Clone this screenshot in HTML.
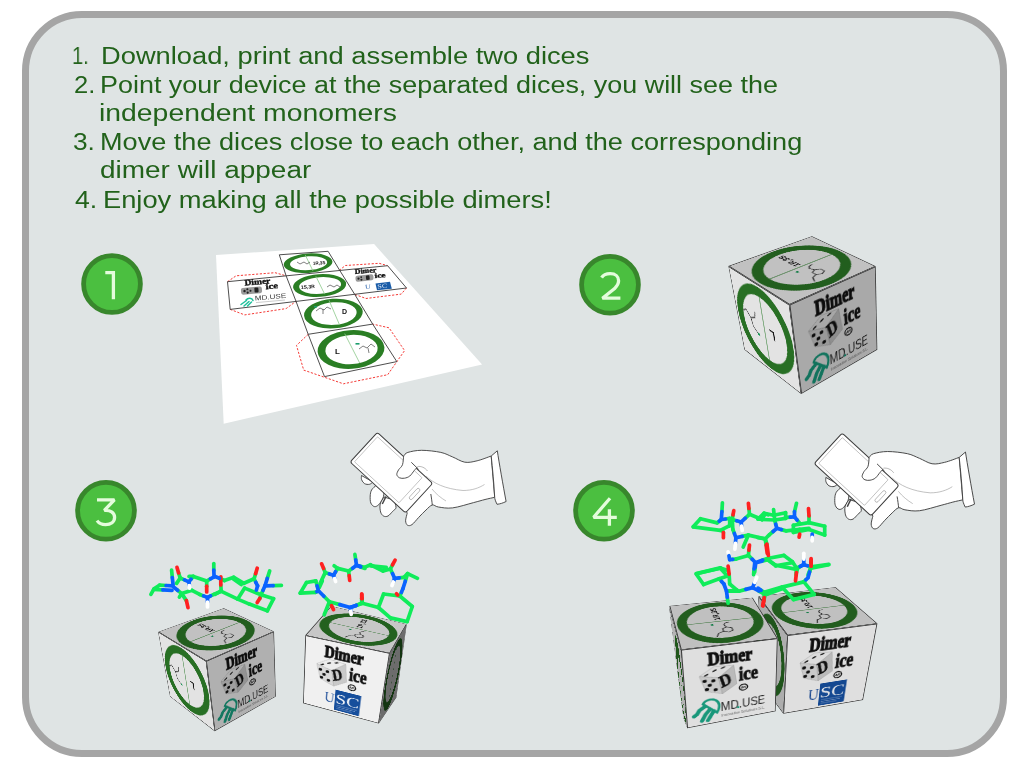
<!DOCTYPE html>
<html><head><meta charset="utf-8">
<style>
html,body{margin:0;padding:0;background:#fff;width:1024px;height:768px;overflow:hidden;}
body{position:relative;font-family:"Liberation Sans",sans-serif;}
#frame{position:absolute;left:22px;top:11px;width:971px;height:732px;border:7px solid #a5a5a5;border-radius:60px;background:#dfe4e4;}
.t{position:absolute;white-space:nowrap;color:#22621b;font-size:24.7px;line-height:1;transform-origin:0 0;will-change:transform;}
svg{position:absolute;left:0;top:0;overflow:visible}
.face{position:absolute;left:0;top:0;width:100px;height:100px;transform-origin:0 0;}
.face svg{position:static;display:block;overflow:hidden}
</style></head><body>
<div id="frame"></div>
<div class="t" id="n1" style="left:72.4px;top:44px;transform:scaleX(0.81)">1.</div>
<div class="t" id="l1" style="left:101.1px;top:44px;transform:scaleX(1.1054)">Download, print and assemble two dices</div>
<div class="t" id="n2" style="left:73.5px;top:73px;transform:scaleX(1.035)">2.</div>
<div class="t" id="l2" style="left:99.7px;top:73px;transform:scaleX(1.0904)">Point your device at the separated dices, you will see the</div>
<div class="t" id="l3" style="left:99.2px;top:101px;transform:scaleX(1.1487)">independent monomers</div>
<div class="t" id="n3" style="left:72.5px;top:130px;transform:scaleX(1.065)">3.</div>
<div class="t" id="l4" style="left:99.7px;top:130px;transform:scaleX(1.0981)">Move the dices close to each other, and the corresponding</div>
<div class="t" id="l5" style="left:99.6px;top:158px;transform:scaleX(1.1321)">dimer will appear</div>
<div class="t" id="n4" style="left:74.6px;top:188px;transform:scaleX(1.078)">4.</div>
<div class="t" id="l6" style="left:102.7px;top:188px;transform:scaleX(1.105)">Enjoy making all the possible dimers!</div>
<svg width="1024" height="768" viewBox="0 0 1024 768">
<g id="paper">
<polygon points="216,255 374.1,244.1 482.1,364.4 223.7,423.8" fill="#ffffff"/>
<!-- dashed red outlines -->
<g fill="none" stroke="#f53a36" stroke-width="1" stroke-dasharray="2.2 1.6">
<polyline points="227.5,281.7 236.1,275.8 275.1,272.7 286.1,275.8"/>
<polyline points="230.2,309.4 244.7,314.9 286.1,308.6 296.2,301.2"/>
<polyline points="339.2,270.4 345.4,265.5 379.2,263.3 387.6,265.7"/>
<polyline points="355,294.5 366,298.5 401.2,294.1 406.5,288"/>
<polyline points="308.2,334.3 296.5,345.4 303.7,370.1 343.4,383.8 387.7,374.7 404.6,350.6 389,327.8 372.7,324.1"/>
</g>
<!-- rings -->
<g fill="#2a7e24">
<ellipse cx="308.1" cy="263.2" rx="24.4" ry="9.7" transform="rotate(-4 308.1 263.2)"/>
<ellipse cx="319.6" cy="285.5" rx="26.6" ry="11.4" transform="rotate(-4 319.6 285.5)"/>
<ellipse cx="333.4" cy="313.6" rx="29.4" ry="14.8" transform="rotate(-4 333.4 313.6)"/>
<ellipse cx="351" cy="349.5" rx="33.5" ry="19.4" transform="rotate(-4 351 349.5)"/>
</g>
<g fill="#ffffff">
<ellipse cx="308.6" cy="263.2" rx="18.6" ry="6.9" transform="rotate(-4 308.6 263.2)"/>
<ellipse cx="320.1" cy="285.5" rx="21" ry="8.3" transform="rotate(-4 320.1 285.5)"/>
<ellipse cx="333.9" cy="313.6" rx="22.8" ry="11.3" transform="rotate(-4 333.9 313.6)"/>
<ellipse cx="351.5" cy="349.5" rx="26.2" ry="14.6" transform="rotate(-4 351.5 349.5)"/>
</g>
<g stroke="#8cc98a" stroke-width="0.8">
<line x1="305.2" y1="254.8" x2="313" y2="271"/>
<line x1="315.9" y1="276.3" x2="324.7" y2="294.2"/>
<line x1="329.1" y1="300.4" x2="339.2" y2="324.1"/>
<line x1="344.7" y1="333.6" x2="359.7" y2="363"/>
</g>
<!-- grid -->
<g fill="none" stroke="#3a3a3a" stroke-width="0.9">
<polyline points="279.3,254.8 286.1,275.8 296.1,301.5 308.2,334.3 324.5,376.6"/>
<polyline points="328.1,251.3 339.6,270.2 354.8,294.5 372.7,324.1 396.8,361.6"/>
<line x1="279.3" y1="254.8" x2="328.1" y2="251.3"/>
<line x1="227.5" y1="281.7" x2="387.6" y2="265.7"/>
<line x1="230.2" y1="309.4" x2="406.5" y2="288"/>
<line x1="308.2" y1="334.3" x2="372.7" y2="324.1"/>
<line x1="324.5" y1="376.6" x2="396.8" y2="361.6"/>
<line x1="227.5" y1="281.7" x2="230.2" y2="309.4"/>
<line x1="387.6" y1="265.7" x2="406.5" y2="288"/>
</g>
<!-- small labels -->
<g font-family="Liberation Sans" font-weight="bold" fill="#111">
<text x="313" y="265" font-size="4.5" transform="rotate(-4 313 265)">1R,3S</text>
<text x="301" y="289" font-size="5" transform="rotate(-4 301 289)">1S,3R</text>
<text x="342" y="314" font-size="7">D</text>
<text x="335" y="354" font-size="8">L</text>
</g>
<g fill="none" stroke="#2a2a2a" stroke-width="0.6">
<path d="M297,262 l3,2 l4,-2 l3,2 l3,-2"/>
<path d="M327,287 l3,-2 l4,2 l3,-2 l3,2"/>
<path d="M316,311 l4,-3 l4,2 l3,-3 l4,2 M323,309 l0,5"/>
<path d="M359,349 l4,-3 l4,2 l4,-4 l4,3 M368,348 l1,5"/>
</g>
<g fill="#1c9e6c"><rect x="314" y="306" width="3" height="1.5"/><rect x="355.5" y="343" width="4" height="1.6"/></g>
<!-- left panel logo -->
<g font-family="Liberation Serif" font-weight="bold" fill="#111" stroke="#111" stroke-width="0.35">
<text x="244.7" y="285.6" font-size="8.2" textLength="26" lengthAdjust="spacingAndGlyphs" transform="rotate(-5 244.7 285.6)">Dimer</text>
<text x="265.8" y="289.2" font-size="8" textLength="12.5" lengthAdjust="spacingAndGlyphs" transform="rotate(-5 265.8 289.2)">ice</text>
<text x="355" y="274" font-size="7" textLength="21.5" lengthAdjust="spacingAndGlyphs" transform="rotate(-5 355 274)">Dimer</text>
<text x="374.8" y="278" font-size="6.5" textLength="11" lengthAdjust="spacingAndGlyphs" transform="rotate(-5 374.8 278)">ice</text>
</g>
<g transform="rotate(-5 251 290.6)"><rect x="241" y="287.2" width="21" height="6.8" rx="2" fill="#9a9a9a"/>
<g fill="#222"><circle cx="244.5" cy="290.5" r="1.2"/><circle cx="247.5" cy="289" r="1"/><circle cx="247.5" cy="292.3" r="1.1"/><circle cx="250.5" cy="290.8" r="1"/><rect x="254.5" y="288" width="4" height="5" rx="1"/></g></g>
<g transform="rotate(-6 364.5 278)"><rect x="355.5" y="275" width="18" height="6" rx="2" fill="#9a9a9a"/>
<g fill="#222"><circle cx="358.5" cy="278" r="1.1"/><circle cx="361.3" cy="276.8" r="0.9"/><circle cx="361.3" cy="279.4" r="1"/><rect x="366" y="275.8" width="3.6" height="4.4" rx="0.9"/></g></g>
<text x="255" y="300.6" font-family="Liberation Sans" font-size="6.6" textLength="31.5" lengthAdjust="spacingAndGlyphs" fill="#3a3a3a" transform="rotate(-5 255 300.6)">MD.USE</text>
<line x1="256" y1="302.6" x2="285" y2="300" stroke="#aaa" stroke-width="0.6"/>
<g stroke="#20c09c" stroke-width="1.5" fill="none" stroke-linecap="round"><path d="M246,300 C248,297.5 252,297.5 253,300.5"/><path d="M246.5,300.5 L241,304.5 M249,301.5 L244,306 M251.5,302 L247.5,306"/></g>
<text x="365.2" y="288.9" font-family="Liberation Serif" font-size="6.2" fill="#1e5aa8" textLength="5.5" lengthAdjust="spacingAndGlyphs" transform="rotate(-5 365.2 288.9)">U</text>
<polygon points="375.5,283.4 390,281.8 391.8,288.8 377,290.3" fill="#1a5ca8"/>
<text x="377.5" y="288.5" font-family="Liberation Serif" font-size="6" fill="#dfe8f5" textLength="10" lengthAdjust="spacingAndGlyphs" transform="rotate(-5 377.5 288.5)">SC</text>
</g>


<g id="badges">
<circle cx="112" cy="284" r="28.4" fill="#4bbf40" stroke="#38872c" stroke-width="4.8"/>
<circle cx="610" cy="284.8" r="28.4" fill="#4bbf40" stroke="#38872c" stroke-width="4.8"/>
<circle cx="106" cy="510.8" r="28.4" fill="#4bbf40" stroke="#38872c" stroke-width="4.8"/>
<circle cx="604" cy="510.8" r="28.4" fill="#4bbf40" stroke="#38872c" stroke-width="4.8"/>
<g fill="none" stroke="#e4fcdc" stroke-width="3.3" stroke-linejoin="miter" stroke-miterlimit="2">
<path d="M105.3,272.7 H113.4 V299.2"/>
<path d="M601.6,277.6 C603.5,274.5 606.5,273.7 610.2,273.7 C615.5,273.7 618.6,276.8 618.6,280.8 C618.6,283.6 617.4,285.7 614.6,288.6 L602.4,298.2 H620.4"/>
<path d="M97,499.8 H114.4 L104.3,510.4 C110,509.8 114.6,512.5 114.6,517.3 C114.6,521.8 110.8,524.6 105.6,524.6 C101.8,524.6 98.9,523.2 97,520.6"/>
<path d="M610,498.2 L593.6,517.3 H616.8 M609.4,509.2 V525.8"/>
</g>
</g>
<g id="hand1"><path d="M361.5,475.5 C361.5,476.2 361.1,478.3 361.6,479.7 C362.1,481.1 363.2,482.8 364.5,483.6 C365.8,484.4 368.1,484.6 369.5,484.3 C370.9,484.0 372.4,482.4 373.0,482.0 Z" fill="#fff" stroke="#3c3c3c" stroke-width="0.9" stroke-linejoin="round"/>
<path d="M376.0,485.5 C375.3,486.2 372.6,488.2 371.6,490.0 C370.6,491.8 370.3,493.8 370.2,496.0 C370.1,498.2 370.1,501.2 370.8,503.0 C371.5,504.8 373.1,506.3 374.4,506.6 C375.7,506.9 377.4,506.0 378.8,504.6 C380.2,503.2 382.1,500.1 383.0,498.0 C383.9,495.9 383.8,493.0 384.0,492.0 Z" fill="#fff" stroke="#3c3c3c" stroke-width="0.9" stroke-linejoin="round"/>
<path d="M384.0,497.0 C383.4,498.2 380.8,501.5 380.2,504.0 C379.6,506.5 380.1,510.0 380.6,512.0 C381.2,514.0 382.3,515.3 383.5,516.0 C384.7,516.7 386.5,516.8 388.0,516.0 C389.5,515.2 391.2,512.9 392.5,511.5 C393.8,510.1 395.8,509.4 396.0,507.5 C396.2,505.6 394.3,501.2 394.0,500.0 Z" fill="#fff" stroke="#3c3c3c" stroke-width="0.9" stroke-linejoin="round"/>
<path d="M403.8,455.8 C404.5,455.2 404.9,453.3 407.9,452.4 C410.9,451.5 416.1,450.3 421.6,450.3 C427.1,450.3 435.7,451.3 440.8,452.4 C445.9,453.5 448.5,455.3 452.5,456.9 C456.5,458.5 460.7,461.5 464.8,462.2 C468.9,462.9 472.7,461.8 477.1,460.8 C481.5,459.8 488.9,456.8 491.2,456.0 L494.7,497.3  C493.1,497.7 488.5,498.6 485.0,499.5 C481.5,500.4 479.0,501.2 473.6,502.6 C468.2,504.0 458.4,507.2 452.5,507.9 C446.6,508.6 441.8,507.5 438.4,507.0 C435.0,506.5 434.4,504.5 432.3,505.0 C430.2,505.5 428.3,507.9 426.0,510.0 C423.7,512.1 420.9,515.1 418.6,517.5 C416.3,519.9 413.9,523.3 412.0,524.6 C410.1,525.9 408.6,525.8 407.5,525.2 C406.4,524.6 405.7,522.8 405.6,520.8 C405.6,518.8 406.9,514.5 407.2,513.2 L395,480 L400,462 Z" fill="#fff" stroke="#3c3c3c" stroke-width="0.9" stroke-linejoin="round"/>
<path d="M491.2,456 L497.3,450.8 C499,462 503,485 506.1,501.5 C503,503 500,504 497,504.3 C495.5,501 494.7,499 494.7,497.3 C494,484 492.5,468 491.2,456 Z" fill="#fff" stroke="#3c3c3c" stroke-width="0.9" stroke-linejoin="round"/>
<path d="M386,496.5 L382.3,504" stroke="#444" stroke-width="1.5" fill="none"/>
<g transform="translate(391.4,472.65) rotate(42.6)"><rect x="-37.6" y="-20.1" width="75.2" height="40.2" rx="2.6" fill="#fff" stroke="#3c3c3c" stroke-width="1"/><rect x="-34.5" y="-17" width="60.5" height="34" rx="0.6" fill="none" stroke="#9a9a9a" stroke-width="0.55"/><rect x="29.8" y="-7" width="3.4" height="14" rx="1.7" fill="none" stroke="#8a8a8a" stroke-width="0.55"/></g>
<path d="M403.6,456.2 C403.4,457.6 403.3,462.4 402.5,464.7 C401.7,467.0 399.6,468.2 398.6,469.8 C397.7,471.4 396.7,473.2 396.8,474.5 C396.9,475.8 398.2,477.2 399.5,477.8 C400.8,478.4 402.8,478.5 404.5,478.2 C406.2,477.9 408.2,477.3 409.8,476.0 C411.4,474.7 413.0,472.0 414.2,470.6 C415.4,469.2 416.5,468.0 417.0,467.5 L421,455 Z" fill="#fff" stroke="none"/>
<path d="M403.6,456.2 C403.4,457.6 403.3,462.4 402.5,464.7 C401.7,467.0 399.6,468.2 398.6,469.8 C397.7,471.4 396.7,473.2 396.8,474.5 C396.9,475.8 398.2,477.2 399.5,477.8 C400.8,478.4 402.8,478.5 404.5,478.2 C406.2,477.9 408.2,477.3 409.8,476.0 C411.4,474.7 413.0,472.0 414.2,470.6 C415.4,469.2 416.5,468.0 417.0,467.5" fill="none" stroke="#3c3c3c" stroke-width="0.9"/>
<path d="M411.3,462.3 L418.6,469.4" stroke="#3c3c3c" stroke-width="0.9" fill="none"/>
<path d="M417.5,466.5 C421,466 425,467.5 427.5,471" stroke="#888" stroke-width="0.6" fill="none"/>
<path d="M426,476 C433,483 445,489 463,490.5 C472,490.5 479,488 484.5,484.5" stroke="#9a9a9a" stroke-width="0.6" fill="none"/>
<path d="M432,489 C436,494 441,498 446,501" stroke="#9a9a9a" stroke-width="0.6" fill="none"/>
<path d="M430.8,494 C431.5,498 432,502 432.3,505" stroke="#3c3c3c" stroke-width="0.9" fill="none"/></g>
<g id="hand2" transform="translate(856.6,474.5) scale(1.028) translate(-391.4,-472.65)"><path d="M361.5,475.5 C361.5,476.2 361.1,478.3 361.6,479.7 C362.1,481.1 363.2,482.8 364.5,483.6 C365.8,484.4 368.1,484.6 369.5,484.3 C370.9,484.0 372.4,482.4 373.0,482.0 Z" fill="#fff" stroke="#3c3c3c" stroke-width="0.9" stroke-linejoin="round"/>
<path d="M376.0,485.5 C375.3,486.2 372.6,488.2 371.6,490.0 C370.6,491.8 370.3,493.8 370.2,496.0 C370.1,498.2 370.1,501.2 370.8,503.0 C371.5,504.8 373.1,506.3 374.4,506.6 C375.7,506.9 377.4,506.0 378.8,504.6 C380.2,503.2 382.1,500.1 383.0,498.0 C383.9,495.9 383.8,493.0 384.0,492.0 Z" fill="#fff" stroke="#3c3c3c" stroke-width="0.9" stroke-linejoin="round"/>
<path d="M384.0,497.0 C383.4,498.2 380.8,501.5 380.2,504.0 C379.6,506.5 380.1,510.0 380.6,512.0 C381.2,514.0 382.3,515.3 383.5,516.0 C384.7,516.7 386.5,516.8 388.0,516.0 C389.5,515.2 391.2,512.9 392.5,511.5 C393.8,510.1 395.8,509.4 396.0,507.5 C396.2,505.6 394.3,501.2 394.0,500.0 Z" fill="#fff" stroke="#3c3c3c" stroke-width="0.9" stroke-linejoin="round"/>
<path d="M403.8,455.8 C404.5,455.2 404.9,453.3 407.9,452.4 C410.9,451.5 416.1,450.3 421.6,450.3 C427.1,450.3 435.7,451.3 440.8,452.4 C445.9,453.5 448.5,455.3 452.5,456.9 C456.5,458.5 460.7,461.5 464.8,462.2 C468.9,462.9 472.7,461.8 477.1,460.8 C481.5,459.8 488.9,456.8 491.2,456.0 L494.7,497.3  C493.1,497.7 488.5,498.6 485.0,499.5 C481.5,500.4 479.0,501.2 473.6,502.6 C468.2,504.0 458.4,507.2 452.5,507.9 C446.6,508.6 441.8,507.5 438.4,507.0 C435.0,506.5 434.4,504.5 432.3,505.0 C430.2,505.5 428.3,507.9 426.0,510.0 C423.7,512.1 420.9,515.1 418.6,517.5 C416.3,519.9 413.9,523.3 412.0,524.6 C410.1,525.9 408.6,525.8 407.5,525.2 C406.4,524.6 405.7,522.8 405.6,520.8 C405.6,518.8 406.9,514.5 407.2,513.2 L395,480 L400,462 Z" fill="#fff" stroke="#3c3c3c" stroke-width="0.9" stroke-linejoin="round"/>
<path d="M491.2,456 L497.3,450.8 C499,462 503,485 506.1,501.5 C503,503 500,504 497,504.3 C495.5,501 494.7,499 494.7,497.3 C494,484 492.5,468 491.2,456 Z" fill="#fff" stroke="#3c3c3c" stroke-width="0.9" stroke-linejoin="round"/>
<path d="M386,496.5 L382.3,504" stroke="#444" stroke-width="1.5" fill="none"/>
<g transform="translate(391.4,472.65) rotate(42.6)"><rect x="-37.6" y="-20.1" width="75.2" height="40.2" rx="2.6" fill="#fff" stroke="#3c3c3c" stroke-width="1"/><rect x="-34.5" y="-17" width="60.5" height="34" rx="0.6" fill="none" stroke="#9a9a9a" stroke-width="0.55"/><rect x="29.8" y="-7" width="3.4" height="14" rx="1.7" fill="none" stroke="#8a8a8a" stroke-width="0.55"/></g>
<path d="M403.6,456.2 C403.4,457.6 403.3,462.4 402.5,464.7 C401.7,467.0 399.6,468.2 398.6,469.8 C397.7,471.4 396.7,473.2 396.8,474.5 C396.9,475.8 398.2,477.2 399.5,477.8 C400.8,478.4 402.8,478.5 404.5,478.2 C406.2,477.9 408.2,477.3 409.8,476.0 C411.4,474.7 413.0,472.0 414.2,470.6 C415.4,469.2 416.5,468.0 417.0,467.5 L421,455 Z" fill="#fff" stroke="none"/>
<path d="M403.6,456.2 C403.4,457.6 403.3,462.4 402.5,464.7 C401.7,467.0 399.6,468.2 398.6,469.8 C397.7,471.4 396.7,473.2 396.8,474.5 C396.9,475.8 398.2,477.2 399.5,477.8 C400.8,478.4 402.8,478.5 404.5,478.2 C406.2,477.9 408.2,477.3 409.8,476.0 C411.4,474.7 413.0,472.0 414.2,470.6 C415.4,469.2 416.5,468.0 417.0,467.5" fill="none" stroke="#3c3c3c" stroke-width="0.9"/>
<path d="M411.3,462.3 L418.6,469.4" stroke="#3c3c3c" stroke-width="0.9" fill="none"/>
<path d="M417.5,466.5 C421,466 425,467.5 427.5,471" stroke="#888" stroke-width="0.6" fill="none"/>
<path d="M426,476 C433,483 445,489 463,490.5 C472,490.5 479,488 484.5,484.5" stroke="#9a9a9a" stroke-width="0.6" fill="none"/>
<path d="M432,489 C436,494 441,498 446,501" stroke="#9a9a9a" stroke-width="0.6" fill="none"/>
<path d="M430.8,494 C431.5,498 432,502 432.3,505" stroke="#3c3c3c" stroke-width="0.9" fill="none"/></g>
</svg>
<div class="face" style="transform:matrix3d(-0.337146,0.00387383,0,-0.00111242,-1.65067,0.00138276,0,-0.00111844,0,0,1,0,812,236.2,0,1)"><svg width="100" height="100" viewBox="0 0 100 100"><rect x="-1" y="-1" width="102" height="102" fill="#f0f0f0"/><g transform="rotate(0 50 50)"><circle cx="50" cy="50" r="41.8" fill="none" stroke="#2b7526" stroke-width="10.6"/><line x1="50" y1="13" x2="50" y2="87" stroke="#3d8a3d" stroke-width="1.1"/><g fill="none" stroke="#3a3a3a" stroke-width="1.2"><path d="M64.5,46 L67.2,41 L73,41 L75.8,46 L73,51 L67.2,51 Z M64.5,46 L59,48 L55,45.5 M55,45.5 L54,41 M73,51 L76,57 L83,60"/></g><rect x="55" y="59" width="3.2" height="2.6" fill="#1c9e5c"/><text x="17" y="56" font-family="Liberation Sans" font-weight="bold" font-size="9.5" fill="#1a1a1a" textLength="30" lengthAdjust="spacingAndGlyphs" transform="rotate(180 32 52.5)">1R,3S</text></g><rect x="-1" y="-1" width="102" height="102" fill="#000" fill-opacity="0.195"/><rect x="0" y="0" width="100" height="100" fill="none" stroke="#333" stroke-width="1.9"/></svg></div>
<div class="face" style="transform:matrix3d(-0.28682,0.0401792,0,-0.00113496,0.889822,1.17834,0,0.000978941,0,0,1,0,728.4,266.1,0,1)"><svg width="100" height="100" viewBox="0 0 100 100"><rect x="-1" y="-1" width="102" height="102" fill="#f0f0f0"/><g transform="rotate(0 50 50)"><circle cx="50" cy="50" r="41.8" fill="none" stroke="#2b7526" stroke-width="10.6"/><line x1="50" y1="13" x2="50" y2="87" stroke="#3d8a3d" stroke-width="1.1"/><g fill="none" stroke="#3a3a3a" stroke-width="1.2"><path d="M20,40 L27,47 L35,43 M27,47 L29,56 L36,61 M35,43 L37,36 M20,40 L14,44"/></g><rect x="36" y="60" width="3.2" height="3" fill="#1c9e5c"/><text x="60" y="56" font-family="Liberation Sans" font-weight="bold" font-size="15" fill="#1a1a1a" transform="rotate(180 64 50.5)">L</text></g><rect x="-1" y="-1" width="102" height="102" fill="#000" fill-opacity="0.050"/><rect x="0" y="0" width="100" height="100" fill="none" stroke="#333" stroke-width="1.9"/></svg></div>
<div class="face" style="transform:matrix3d(2.09919,-0.00952128,0,0.00141051,1.17965,1.41572,0,0.00132383,0,0,1,0,789.3,304.7,0,1)"><svg width="100" height="100" viewBox="0 0 100 100"><rect x="-1" y="-1" width="102" height="102" fill="#f0f0f0"/><text x="25" y="23.2" font-family="Liberation Serif" font-weight="bold" font-size="23.5" textLength="47" lengthAdjust="spacingAndGlyphs" fill="#111" stroke="#111" stroke-width="1.3">Dimer</text><polygon points="16,35 35.6,40 39.1,61.7 21.6,55.3" fill="#d9d9d9" stroke="#999" stroke-width="0.4"/><polygon points="16,35 31.6,25 51.8,27 35.6,40" fill="#ededed" stroke="#999" stroke-width="0.4"/><polygon points="35.6,40 51.8,27 54.8,51.5 39.1,61.7" fill="#c9c9c9" stroke="#999" stroke-width="0.4"/><g fill="#111"><ellipse cx="21" cy="42" rx="2.3" ry="1.9"/><ellipse cx="30" cy="43" rx="2.3" ry="1.9"/><ellipse cx="26" cy="48" rx="2.3" ry="1.9"/><ellipse cx="23" cy="53" rx="2.3" ry="1.9"/><ellipse cx="32" cy="55" rx="2.3" ry="1.9"/><ellipse cx="23" cy="34.5" rx="2.6" ry="0.9" transform="rotate(-25 23 34.5)"/><ellipse cx="31.5" cy="30.5" rx="2.6" ry="0.9" transform="rotate(-25 31.5 30.5)"/><ellipse cx="40.5" cy="28" rx="2.6" ry="0.9" transform="rotate(-15 40.5 28)"/></g><text x="43" y="50.5" font-family="Liberation Serif" font-weight="bold" font-size="22" fill="#111" stroke="#111" stroke-width="0.6" transform="rotate(-22 46 46) skewX(-8)" textLength="13" lengthAdjust="spacingAndGlyphs">D</text><text x="57" y="47.8" font-family="Liberation Serif" font-weight="bold" font-size="26" textLength="21.5" lengthAdjust="spacingAndGlyphs" fill="#111" stroke="#111" stroke-width="1.1">ice</text><ellipse cx="62" cy="57.5" rx="4.6" ry="3.9" fill="none" stroke="#111" stroke-width="1.5"/><text x="59" y="59.3" font-family="Liberation Sans" font-weight="bold" font-size="4.4" fill="#111" textLength="6" lengthAdjust="spacingAndGlyphs">AR</text><text x="36.5" y="85.5" font-family="Liberation Sans" font-size="17" textLength="50.5" lengthAdjust="spacingAndGlyphs" fill="#2b2b2b">MD.USE</text><rect x="54.5" y="82.5" width="2.6" height="2.6" fill="#1aa384"/><text x="37" y="93.5" font-family="Liberation Sans" font-size="5" textLength="50" lengthAdjust="spacingAndGlyphs" fill="#777">Innovative Solutions S.L.</text><g fill="none" stroke="#1aa384" stroke-width="2.8" stroke-linecap="round"><path d="M18,71.5 C20,66 30,64.5 34,72 C36,76 35,82 32.5,86 Z"/><path d="M20,75 L14,79 L11,84 L8,86" stroke-width="4.6" stroke-dasharray="2.6 1.0"/><path d="M25,80 L20,86 L16,94" stroke-width="4.6" stroke-dasharray="2.6 1.0"/><path d="M29,83 L25,90 L22,95" stroke-width="4.6" stroke-dasharray="2.6 1.0"/></g><rect x="-1" y="-1" width="102" height="102" fill="#000" fill-opacity="0.296"/><rect x="0" y="0" width="100" height="100" fill="none" stroke="#333" stroke-width="1.9"/></svg></div>
<div class="face" style="transform:matrix3d(0.216712,-0.425412,0,-0.0010412,-0.813531,-0.392226,0,-0.000995768,0,0,1,0,223.8,608.2,0,1)"><svg width="100" height="100" viewBox="0 0 100 100"><rect x="-1" y="-1" width="102" height="102" fill="#f0f0f0"/><g transform="rotate(0 50 50)"><circle cx="50" cy="50" r="41.8" fill="none" stroke="#2b7526" stroke-width="10.6"/><line x1="50" y1="13" x2="50" y2="87" stroke="#3d8a3d" stroke-width="1.1"/><g fill="none" stroke="#3a3a3a" stroke-width="1.2"><path d="M64.5,46 L67.2,41 L73,41 L75.8,46 L73,51 L67.2,51 Z M64.5,46 L59,48 L55,45.5 M55,45.5 L54,41 M73,51 L76,57 L83,60"/></g><rect x="55" y="59" width="3.2" height="2.6" fill="#1c9e5c"/><text x="17" y="56" font-family="Liberation Sans" font-weight="bold" font-size="9.5" fill="#1a1a1a" textLength="30" lengthAdjust="spacingAndGlyphs" transform="rotate(180 32 52.5)">1R,3S</text></g><rect x="-1" y="-1" width="102" height="102" fill="#000" fill-opacity="0.195"/><rect x="0" y="0" width="100" height="100" fill="none" stroke="#333" stroke-width="1.9"/></svg></div>
<div class="face" style="transform:matrix3d(0.22035,-0.537664,0,-0.00125498,0.286021,1.33099,0,0.000981901,0,0,1,0,158.2,631.9,0,1)"><svg width="100" height="100" viewBox="0 0 100 100"><rect x="-1" y="-1" width="102" height="102" fill="#f0f0f0"/><g transform="rotate(0 50 50)"><circle cx="50" cy="50" r="41.8" fill="none" stroke="#2b7526" stroke-width="10.6"/><line x1="50" y1="13" x2="50" y2="87" stroke="#3d8a3d" stroke-width="1.1"/><g fill="none" stroke="#3a3a3a" stroke-width="1.2"><path d="M20,40 L27,47 L35,43 M27,47 L29,56 L36,61 M35,43 L37,36 M20,40 L14,44"/></g><rect x="36" y="60" width="3.2" height="3" fill="#1c9e5c"/><text x="60" y="56" font-family="Liberation Sans" font-weight="bold" font-size="15" fill="#1a1a1a" transform="rotate(180 64 50.5)">L</text></g><rect x="-1" y="-1" width="102" height="102" fill="#000" fill-opacity="0.050"/><rect x="0" y="0" width="100" height="100" fill="none" stroke="#333" stroke-width="1.9"/></svg></div>
<div class="face" style="transform:matrix3d(1.04108,0.537381,0,0.00132148,0.316588,1.48631,0,0.001074,0,0,1,0,206.1,661.1,0,1)"><svg width="100" height="100" viewBox="0 0 100 100"><rect x="-1" y="-1" width="102" height="102" fill="#f0f0f0"/><text x="25" y="23.2" font-family="Liberation Serif" font-weight="bold" font-size="23.5" textLength="47" lengthAdjust="spacingAndGlyphs" fill="#111" stroke="#111" stroke-width="1.3">Dimer</text><polygon points="16,35 35.6,40 39.1,61.7 21.6,55.3" fill="#d9d9d9" stroke="#999" stroke-width="0.4"/><polygon points="16,35 31.6,25 51.8,27 35.6,40" fill="#ededed" stroke="#999" stroke-width="0.4"/><polygon points="35.6,40 51.8,27 54.8,51.5 39.1,61.7" fill="#c9c9c9" stroke="#999" stroke-width="0.4"/><g fill="#111"><ellipse cx="21" cy="42" rx="2.3" ry="1.9"/><ellipse cx="30" cy="43" rx="2.3" ry="1.9"/><ellipse cx="26" cy="48" rx="2.3" ry="1.9"/><ellipse cx="23" cy="53" rx="2.3" ry="1.9"/><ellipse cx="32" cy="55" rx="2.3" ry="1.9"/><ellipse cx="23" cy="34.5" rx="2.6" ry="0.9" transform="rotate(-25 23 34.5)"/><ellipse cx="31.5" cy="30.5" rx="2.6" ry="0.9" transform="rotate(-25 31.5 30.5)"/><ellipse cx="40.5" cy="28" rx="2.6" ry="0.9" transform="rotate(-15 40.5 28)"/></g><text x="43" y="50.5" font-family="Liberation Serif" font-weight="bold" font-size="22" fill="#111" stroke="#111" stroke-width="0.6" transform="rotate(-22 46 46) skewX(-8)" textLength="13" lengthAdjust="spacingAndGlyphs">D</text><text x="57" y="47.8" font-family="Liberation Serif" font-weight="bold" font-size="26" textLength="21.5" lengthAdjust="spacingAndGlyphs" fill="#111" stroke="#111" stroke-width="1.1">ice</text><ellipse cx="62" cy="57.5" rx="4.6" ry="3.9" fill="none" stroke="#111" stroke-width="1.5"/><text x="59" y="59.3" font-family="Liberation Sans" font-weight="bold" font-size="4.4" fill="#111" textLength="6" lengthAdjust="spacingAndGlyphs">AR</text><text x="36.5" y="85.5" font-family="Liberation Sans" font-size="17" textLength="50.5" lengthAdjust="spacingAndGlyphs" fill="#2b2b2b">MD.USE</text><rect x="54.5" y="82.5" width="2.6" height="2.6" fill="#1aa384"/><text x="37" y="93.5" font-family="Liberation Sans" font-size="5" textLength="50" lengthAdjust="spacingAndGlyphs" fill="#777">Innovative Solutions S.L.</text><g fill="none" stroke="#1aa384" stroke-width="2.8" stroke-linecap="round"><path d="M18,71.5 C20,66 30,64.5 34,72 C36,76 35,82 32.5,86 Z"/><path d="M20,75 L14,79 L11,84 L8,86" stroke-width="4.6" stroke-dasharray="2.6 1.0"/><path d="M25,80 L20,86 L16,94" stroke-width="4.6" stroke-dasharray="2.6 1.0"/><path d="M29,83 L25,90 L22,95" stroke-width="4.6" stroke-dasharray="2.6 1.0"/></g><rect x="-1" y="-1" width="102" height="102" fill="#000" fill-opacity="0.267"/><rect x="0" y="0" width="100" height="100" fill="none" stroke="#333" stroke-width="1.9"/></svg></div>
<div class="face" style="transform:matrix3d(1.03057,0.601875,0,0.000672662,-0.537397,-0.291388,0,-0.000918431,0,0,1,0,331,606,0,1)"><svg width="100" height="100" viewBox="0 0 100 100"><rect x="-1" y="-1" width="102" height="102" fill="#f0f0f0"/><g transform="rotate(90 50 50)"><circle cx="50" cy="50" r="41.8" fill="none" stroke="#2b7526" stroke-width="10.6"/><line x1="50" y1="13" x2="50" y2="87" stroke="#3d8a3d" stroke-width="1.1"/><g fill="none" stroke="#3a3a3a" stroke-width="1.2"><path d="M64.5,46 L67.2,41 L73,41 L75.8,46 L73,51 L67.2,51 Z M64.5,46 L59,48 L55,45.5 M55,45.5 L54,41 M73,51 L76,57 L83,60"/></g><rect x="55" y="59" width="3.2" height="2.6" fill="#1c9e5c"/><text x="17" y="56" font-family="Liberation Sans" font-weight="bold" font-size="9.5" fill="#1a1a1a" textLength="30" lengthAdjust="spacingAndGlyphs" transform="rotate(180 32 52.5)">1R,3S</text></g><rect x="-1" y="-1" width="102" height="102" fill="#000" fill-opacity="0.170"/><rect x="0" y="0" width="100" height="100" fill="none" stroke="#333" stroke-width="1.9"/></svg></div>
<div class="face" style="transform:matrix3d(0.58612,-0.256311,0,-0.00066653,0.304729,1.43802,0,0.00107796,0,0,1,0,305.3,635.2,0,1)"><svg width="100" height="100" viewBox="0 0 100 100"><rect x="-1" y="-1" width="102" height="102" fill="#f0f0f0"/><text x="25" y="23.2" font-family="Liberation Serif" font-weight="bold" font-size="23.5" textLength="47" lengthAdjust="spacingAndGlyphs" fill="#111" stroke="#111" stroke-width="1.3">Dimer</text><polygon points="16,35 35.6,40 39.1,61.7 21.6,55.3" fill="#d9d9d9" stroke="#999" stroke-width="0.4"/><polygon points="16,35 31.6,25 51.8,27 35.6,40" fill="#ededed" stroke="#999" stroke-width="0.4"/><polygon points="35.6,40 51.8,27 54.8,51.5 39.1,61.7" fill="#c9c9c9" stroke="#999" stroke-width="0.4"/><g fill="#111"><ellipse cx="21" cy="42" rx="2.3" ry="1.9"/><ellipse cx="30" cy="43" rx="2.3" ry="1.9"/><ellipse cx="26" cy="48" rx="2.3" ry="1.9"/><ellipse cx="23" cy="53" rx="2.3" ry="1.9"/><ellipse cx="32" cy="55" rx="2.3" ry="1.9"/><ellipse cx="23" cy="34.5" rx="2.6" ry="0.9" transform="rotate(-25 23 34.5)"/><ellipse cx="31.5" cy="30.5" rx="2.6" ry="0.9" transform="rotate(-25 31.5 30.5)"/><ellipse cx="40.5" cy="28" rx="2.6" ry="0.9" transform="rotate(-15 40.5 28)"/></g><text x="43" y="50.5" font-family="Liberation Serif" font-weight="bold" font-size="22" fill="#111" stroke="#111" stroke-width="0.6" transform="rotate(-22 46 46) skewX(-8)" textLength="13" lengthAdjust="spacingAndGlyphs">D</text><text x="57" y="47.8" font-family="Liberation Serif" font-weight="bold" font-size="26" textLength="21.5" lengthAdjust="spacingAndGlyphs" fill="#111" stroke="#111" stroke-width="1.1">ice</text><ellipse cx="62" cy="57.5" rx="4.6" ry="3.9" fill="none" stroke="#111" stroke-width="1.5"/><text x="59" y="59.3" font-family="Liberation Sans" font-weight="bold" font-size="4.4" fill="#111" textLength="6" lengthAdjust="spacingAndGlyphs">AR</text><text x="28.5" y="87" font-family="Liberation Serif" font-size="22" fill="#1f4f9a" textLength="13" lengthAdjust="spacingAndGlyphs">U</text><rect x="42" y="66" width="32.5" height="31" fill="#164e9c"/><text x="43" y="86" font-family="Liberation Serif" font-size="21" fill="#f4f6fa" textLength="30" lengthAdjust="spacingAndGlyphs">SC</text><g stroke="#9fb5d8" stroke-width="0.6"><line x1="45" y1="89" x2="71" y2="89"/><line x1="45" y1="91.5" x2="69" y2="91.5"/><line x1="45" y1="94" x2="65" y2="94"/></g><rect x="0" y="0" width="100" height="100" fill="none" stroke="#333" stroke-width="1.9"/></svg></div>
<div class="face" style="transform:matrix3d(-0.102527,-0.704203,0,-0.000665177,-0.412262,0.129517,0,-0.000795305,0,0,1,0,389.9,653.1,0,1)"><svg width="100" height="100" viewBox="0 0 100 100"><rect x="-1" y="-1" width="102" height="102" fill="#f0f0f0"/><g transform="rotate(0 50 50)"><circle cx="50" cy="50" r="41.8" fill="none" stroke="#2b7526" stroke-width="10.6"/><line x1="50" y1="13" x2="50" y2="87" stroke="#3d8a3d" stroke-width="1.1"/></g><rect x="-1" y="-1" width="102" height="102" fill="#000" fill-opacity="0.550"/><rect x="0" y="0" width="100" height="100" fill="none" stroke="#333" stroke-width="1.9"/></svg></div>
<div class="face" style="transform:matrix3d(0.287,0.39,0,-1.84243e-17,-0.039,0.7855,0,3.71085e-17,0,0,1,0,758.5,596.2,0,1)"><svg width="100" height="100" viewBox="0 0 100 100"><rect x="-1" y="-1" width="102" height="102" fill="#f0f0f0"/><g transform="rotate(0 50 50)"><circle cx="50" cy="50" r="41.8" fill="none" stroke="#2b7526" stroke-width="10.6"/><line x1="50" y1="13" x2="50" y2="87" stroke="#3d8a3d" stroke-width="1.1"/></g><rect x="-1" y="-1" width="102" height="102" fill="#000" fill-opacity="0.280"/><rect x="0" y="0" width="100" height="100" fill="none" stroke="#333" stroke-width="1.9"/></svg></div>
<div class="face" style="transform:matrix3d(0.995692,0.0682025,0,0.00026767,-0.944958,-0.60408,0,-0.00156499,0,0,1,0,758.5,596.2,0,1)"><svg width="100" height="100" viewBox="0 0 100 100"><rect x="-1" y="-1" width="102" height="102" fill="#f0f0f0"/><g transform="rotate(90 50 50)"><circle cx="50" cy="50" r="41.8" fill="none" stroke="#2b7526" stroke-width="10.6"/><line x1="50" y1="13" x2="50" y2="87" stroke="#3d8a3d" stroke-width="1.1"/><g fill="none" stroke="#3a3a3a" stroke-width="1.2"><path d="M64.5,46 L67.2,41 L73,41 L75.8,46 L73,51 L67.2,51 Z M64.5,46 L59,48 L55,45.5 M55,45.5 L54,41 M73,51 L76,57 L83,60"/></g><rect x="55" y="59" width="3.2" height="2.6" fill="#1c9e5c"/><text x="17" y="56" font-family="Liberation Sans" font-weight="bold" font-size="9.5" fill="#1a1a1a" textLength="30" lengthAdjust="spacingAndGlyphs" transform="rotate(180 32 52.5)">1R,3S</text></g><rect x="-1" y="-1" width="102" height="102" fill="#000" fill-opacity="0.200"/><rect x="0" y="0" width="100" height="100" fill="none" stroke="#333" stroke-width="1.9"/></svg></div>
<div class="face" style="transform:matrix3d(1.35975,0.208287,0,0.000521711,1.06679,1.7931,0,0.0014117,0,0,1,0,787.2,635.2,0,1)"><svg width="100" height="100" viewBox="0 0 100 100"><rect x="-1" y="-1" width="102" height="102" fill="#f0f0f0"/><text x="25" y="23.2" font-family="Liberation Serif" font-weight="bold" font-size="23.5" textLength="47" lengthAdjust="spacingAndGlyphs" fill="#111" stroke="#111" stroke-width="1.3">Dimer</text><polygon points="16,35 35.6,40 39.1,61.7 21.6,55.3" fill="#d9d9d9" stroke="#999" stroke-width="0.4"/><polygon points="16,35 31.6,25 51.8,27 35.6,40" fill="#ededed" stroke="#999" stroke-width="0.4"/><polygon points="35.6,40 51.8,27 54.8,51.5 39.1,61.7" fill="#c9c9c9" stroke="#999" stroke-width="0.4"/><g fill="#111"><ellipse cx="21" cy="42" rx="2.3" ry="1.9"/><ellipse cx="30" cy="43" rx="2.3" ry="1.9"/><ellipse cx="26" cy="48" rx="2.3" ry="1.9"/><ellipse cx="23" cy="53" rx="2.3" ry="1.9"/><ellipse cx="32" cy="55" rx="2.3" ry="1.9"/><ellipse cx="23" cy="34.5" rx="2.6" ry="0.9" transform="rotate(-25 23 34.5)"/><ellipse cx="31.5" cy="30.5" rx="2.6" ry="0.9" transform="rotate(-25 31.5 30.5)"/><ellipse cx="40.5" cy="28" rx="2.6" ry="0.9" transform="rotate(-15 40.5 28)"/></g><text x="43" y="50.5" font-family="Liberation Serif" font-weight="bold" font-size="22" fill="#111" stroke="#111" stroke-width="0.6" transform="rotate(-22 46 46) skewX(-8)" textLength="13" lengthAdjust="spacingAndGlyphs">D</text><text x="57" y="47.8" font-family="Liberation Serif" font-weight="bold" font-size="26" textLength="21.5" lengthAdjust="spacingAndGlyphs" fill="#111" stroke="#111" stroke-width="1.1">ice</text><ellipse cx="62" cy="57.5" rx="4.6" ry="3.9" fill="none" stroke="#111" stroke-width="1.5"/><text x="59" y="59.3" font-family="Liberation Sans" font-weight="bold" font-size="4.4" fill="#111" textLength="6" lengthAdjust="spacingAndGlyphs">AR</text><text x="28.5" y="87" font-family="Liberation Serif" font-size="22" fill="#1f4f9a" textLength="13" lengthAdjust="spacingAndGlyphs">U</text><rect x="42" y="66" width="32.5" height="31" fill="#164e9c"/><text x="43" y="86" font-family="Liberation Serif" font-size="21" fill="#f4f6fa" textLength="30" lengthAdjust="spacingAndGlyphs">SC</text><g stroke="#9fb5d8" stroke-width="0.6"><line x1="45" y1="89" x2="71" y2="89"/><line x1="45" y1="91.5" x2="69" y2="91.5"/><line x1="45" y1="94" x2="65" y2="94"/></g><rect x="-1" y="-1" width="102" height="102" fill="#000" fill-opacity="0.070"/><rect x="0" y="0" width="100" height="100" fill="none" stroke="#333" stroke-width="1.9"/></svg></div>
<div class="face" style="transform:matrix3d(1.57438,1.83463,0,0.00213712,11.7674,13.3271,0,0.0170057,0,0,1,0,669.1,606.3,0,1)"><svg width="100" height="100" viewBox="0 0 100 100"><rect x="-1" y="-1" width="102" height="102" fill="#f0f0f0"/><g transform="rotate(0 50 50)"><circle cx="50" cy="50" r="41.8" fill="none" stroke="#2b7526" stroke-width="10.6"/><line x1="50" y1="13" x2="50" y2="87" stroke="#3d8a3d" stroke-width="1.1"/></g><rect x="-1" y="-1" width="102" height="102" fill="#000" fill-opacity="0.250"/><rect x="0" y="0" width="100" height="100" fill="none" stroke="#333" stroke-width="1.9"/></svg></div>
<div class="face" style="transform:matrix3d(1.107,0.13458,0,0.000364029,-0.905449,-0.535028,0,-0.00149743,0,0,1,0,669.4,606,0,1)"><svg width="100" height="100" viewBox="0 0 100 100"><rect x="-1" y="-1" width="102" height="102" fill="#f0f0f0"/><g transform="rotate(90 50 50)"><circle cx="50" cy="50" r="41.8" fill="none" stroke="#2b7526" stroke-width="10.6"/><line x1="50" y1="13" x2="50" y2="87" stroke="#3d8a3d" stroke-width="1.1"/><g fill="none" stroke="#3a3a3a" stroke-width="1.2"><path d="M64.5,46 L67.2,41 L73,41 L75.8,46 L73,51 L67.2,51 Z M64.5,46 L59,48 L55,45.5 M55,45.5 L54,41 M73,51 L76,57 L83,60"/></g><rect x="55" y="59" width="3.2" height="2.6" fill="#1c9e5c"/><text x="17" y="56" font-family="Liberation Sans" font-weight="bold" font-size="9.5" fill="#1a1a1a" textLength="30" lengthAdjust="spacingAndGlyphs" transform="rotate(180 32 52.5)">1R,3S</text></g><rect x="-1" y="-1" width="102" height="102" fill="#000" fill-opacity="0.200"/><rect x="0" y="0" width="100" height="100" fill="none" stroke="#333" stroke-width="1.9"/></svg></div>
<div class="face" style="transform:matrix3d(1.73746,0.515712,0,0.000988113,0.731273,1.49334,0,0.000972599,0,0,1,0,680.8,649.8,0,1)"><svg width="100" height="100" viewBox="0 0 100 100"><rect x="-1" y="-1" width="102" height="102" fill="#f0f0f0"/><text x="25" y="23.2" font-family="Liberation Serif" font-weight="bold" font-size="23.5" textLength="47" lengthAdjust="spacingAndGlyphs" fill="#111" stroke="#111" stroke-width="1.3">Dimer</text><polygon points="16,35 35.6,40 39.1,61.7 21.6,55.3" fill="#d9d9d9" stroke="#999" stroke-width="0.4"/><polygon points="16,35 31.6,25 51.8,27 35.6,40" fill="#ededed" stroke="#999" stroke-width="0.4"/><polygon points="35.6,40 51.8,27 54.8,51.5 39.1,61.7" fill="#c9c9c9" stroke="#999" stroke-width="0.4"/><g fill="#111"><ellipse cx="21" cy="42" rx="2.3" ry="1.9"/><ellipse cx="30" cy="43" rx="2.3" ry="1.9"/><ellipse cx="26" cy="48" rx="2.3" ry="1.9"/><ellipse cx="23" cy="53" rx="2.3" ry="1.9"/><ellipse cx="32" cy="55" rx="2.3" ry="1.9"/><ellipse cx="23" cy="34.5" rx="2.6" ry="0.9" transform="rotate(-25 23 34.5)"/><ellipse cx="31.5" cy="30.5" rx="2.6" ry="0.9" transform="rotate(-25 31.5 30.5)"/><ellipse cx="40.5" cy="28" rx="2.6" ry="0.9" transform="rotate(-15 40.5 28)"/></g><text x="43" y="50.5" font-family="Liberation Serif" font-weight="bold" font-size="22" fill="#111" stroke="#111" stroke-width="0.6" transform="rotate(-22 46 46) skewX(-8)" textLength="13" lengthAdjust="spacingAndGlyphs">D</text><text x="57" y="47.8" font-family="Liberation Serif" font-weight="bold" font-size="26" textLength="21.5" lengthAdjust="spacingAndGlyphs" fill="#111" stroke="#111" stroke-width="1.1">ice</text><ellipse cx="62" cy="57.5" rx="4.6" ry="3.9" fill="none" stroke="#111" stroke-width="1.5"/><text x="59" y="59.3" font-family="Liberation Sans" font-weight="bold" font-size="4.4" fill="#111" textLength="6" lengthAdjust="spacingAndGlyphs">AR</text><text x="36.5" y="85.5" font-family="Liberation Sans" font-size="17" textLength="50.5" lengthAdjust="spacingAndGlyphs" fill="#2b2b2b">MD.USE</text><rect x="54.5" y="82.5" width="2.6" height="2.6" fill="#1aa384"/><text x="37" y="93.5" font-family="Liberation Sans" font-size="5" textLength="50" lengthAdjust="spacingAndGlyphs" fill="#777">Innovative Solutions S.L.</text><g fill="none" stroke="#1aa384" stroke-width="2.8" stroke-linecap="round"><path d="M18,71.5 C20,66 30,64.5 34,72 C36,76 35,82 32.5,86 Z"/><path d="M20,75 L14,79 L11,84 L8,86" stroke-width="4.6" stroke-dasharray="2.6 1.0"/><path d="M25,80 L20,86 L16,94" stroke-width="4.6" stroke-dasharray="2.6 1.0"/><path d="M29,83 L25,90 L22,95" stroke-width="4.6" stroke-dasharray="2.6 1.0"/></g><rect x="-1" y="-1" width="102" height="102" fill="#000" fill-opacity="0.070"/><rect x="0" y="0" width="100" height="100" fill="none" stroke="#333" stroke-width="1.9"/></svg></div>
<svg width="1024" height="768" viewBox="0 0 1024 768" style="position:absolute;left:0;top:0">
<g stroke-width="3.7" stroke-linecap="round"><line x1="171.6" y1="570.2" x2="172.3" y2="577.6" stroke="#10ec5a"/><line x1="166.1" y1="585.5" x2="159.5" y2="585.2" stroke="#10ec5a"/><line x1="159.5" y1="585.2" x2="154.0" y2="588.9" stroke="#10ec5a"/><line x1="154.0" y1="588.9" x2="150.9" y2="594.4" stroke="#10ec5a"/><line x1="162.8" y1="589.9" x2="153.6" y2="589.5" stroke="#10ec5a"/><line x1="177.6" y1="590.3" x2="181.7" y2="593.6" stroke="#10ec5a"/><line x1="181.7" y1="593.6" x2="179.4" y2="597.1" stroke="#10ec5a"/><line x1="181.7" y1="593.6" x2="186.4" y2="600.6" stroke="#10ec5a"/><line x1="181.7" y1="593.6" x2="191.9" y2="590.3" stroke="#10ec5a"/><line x1="184.5" y1="579.9" x2="180.2" y2="578.0" stroke="#10ec5a"/><line x1="180.2" y1="578.0" x2="178.6" y2="572.9" stroke="#10ec5a"/><line x1="180.2" y1="578.0" x2="176.6" y2="583.4" stroke="#10ec5a"/><line x1="191.1" y1="579.1" x2="193.4" y2="576.4" stroke="#10ec5a"/><line x1="193.4" y1="576.4" x2="189.1" y2="576.4" stroke="#10ec5a"/><line x1="193.4" y1="576.4" x2="206.7" y2="581.1" stroke="#10ec5a"/><line x1="206.7" y1="581.1" x2="206.7" y2="586.2" stroke="#10ec5a"/><line x1="206.7" y1="581.1" x2="210.4" y2="578.9" stroke="#10ec5a"/><line x1="213.8" y1="570.2" x2="213.8" y2="563.5" stroke="#10ec5a"/><line x1="191.9" y1="590.3" x2="199.7" y2="594.4" stroke="#10ec5a"/><line x1="199.7" y1="594.4" x2="203.6" y2="595.9" stroke="#10ec5a"/><line x1="210.6" y1="595.9" x2="213.8" y2="594.4" stroke="#10ec5a"/><line x1="213.8" y1="594.4" x2="221.2" y2="591.2" stroke="#10ec5a"/><line x1="220.8" y1="585.0" x2="221.2" y2="591.2" stroke="#10ec5a"/><line x1="219.4" y1="578.3" x2="224.4" y2="580.5" stroke="#10ec5a"/><line x1="224.4" y1="580.5" x2="233.8" y2="577.3" stroke="#10ec5a"/><line x1="233.8" y1="577.3" x2="243.9" y2="583.3" stroke="#10ec5a"/><line x1="243.9" y1="583.3" x2="254.1" y2="578.8" stroke="#10ec5a"/><line x1="233.4" y1="579.1" x2="241.2" y2="584.6" stroke="#10ec5a"/><line x1="254.1" y1="578.8" x2="255.8" y2="582.3" stroke="#10ec5a"/><line x1="254.1" y1="578.8" x2="255.6" y2="573.7" stroke="#10ec5a"/><line x1="220.9" y1="591.2" x2="237.7" y2="599.1" stroke="#10ec5a"/><line x1="215.0" y1="594.4" x2="220.9" y2="591.2" stroke="#10ec5a"/><line x1="237.7" y1="599.1" x2="244.7" y2="588.1" stroke="#10ec5a"/><line x1="244.7" y1="588.1" x2="261.1" y2="594.8" stroke="#10ec5a"/><line x1="261.1" y1="594.8" x2="273.6" y2="598.7" stroke="#10ec5a"/><line x1="273.6" y1="598.7" x2="267.3" y2="610.8" stroke="#10ec5a"/><line x1="267.3" y1="610.8" x2="249.4" y2="604.1" stroke="#10ec5a"/><line x1="249.4" y1="604.1" x2="237.7" y2="599.1" stroke="#10ec5a"/><line x1="259.9" y1="598.3" x2="261.1" y2="594.8" stroke="#10ec5a"/><line x1="261.1" y1="594.8" x2="263.0" y2="590.3" stroke="#10ec5a"/><line x1="267.3" y1="578.4" x2="269.7" y2="570.9" stroke="#10ec5a"/><line x1="273.2" y1="585.6" x2="281.4" y2="585.4" stroke="#10ec5a"/><line x1="323.6" y1="568.4" x2="325.2" y2="572.6" stroke="#10ec5a"/><line x1="325.2" y1="572.6" x2="329.4" y2="573.9" stroke="#10ec5a"/><line x1="335.6" y1="571.8" x2="337.7" y2="568.4" stroke="#10ec5a"/><line x1="337.7" y1="568.4" x2="334.1" y2="565.8" stroke="#10ec5a"/><line x1="337.7" y1="568.4" x2="348.6" y2="571.0" stroke="#10ec5a"/><line x1="348.6" y1="571.0" x2="349.2" y2="575.7" stroke="#10ec5a"/><line x1="348.6" y1="571.0" x2="352.6" y2="568.2" stroke="#10ec5a"/><line x1="355.7" y1="559.8" x2="354.9" y2="554.4" stroke="#10ec5a"/><line x1="360.7" y1="566.9" x2="365.0" y2="568.4" stroke="#10ec5a"/><line x1="325.2" y1="572.6" x2="320.0" y2="583.5" stroke="#10ec5a"/><line x1="322.3" y1="580.9" x2="319.2" y2="587.7" stroke="#10ec5a"/><line x1="317.1" y1="585.9" x2="315.8" y2="580.9" stroke="#10ec5a"/><line x1="315.8" y1="580.9" x2="306.5" y2="582.5" stroke="#10ec5a"/><line x1="306.5" y1="582.5" x2="300.2" y2="593.1" stroke="#10ec5a"/><line x1="300.2" y1="593.1" x2="315.3" y2="592.4" stroke="#10ec5a"/><line x1="315.3" y1="592.4" x2="316.9" y2="591.6" stroke="#10ec5a"/><line x1="323.9" y1="596.3" x2="329.4" y2="601.8" stroke="#10ec5a"/><line x1="329.4" y1="601.8" x2="324.2" y2="614.8" stroke="#10ec5a"/><line x1="329.4" y1="601.8" x2="331.5" y2="605.7" stroke="#10ec5a"/><line x1="329.4" y1="601.8" x2="339.8" y2="604.6" stroke="#10ec5a"/><line x1="355.9" y1="605.4" x2="361.7" y2="603.3" stroke="#10ec5a"/><line x1="361.7" y1="603.3" x2="361.7" y2="598.6" stroke="#10ec5a"/><line x1="360.4" y1="566.4" x2="364.4" y2="567.4" stroke="#10ec5a"/><line x1="364.4" y1="567.4" x2="370.6" y2="564.8" stroke="#10ec5a"/><line x1="370.6" y1="564.8" x2="383.1" y2="571.0" stroke="#10ec5a"/><line x1="383.1" y1="571.0" x2="390.4" y2="569.0" stroke="#10ec5a"/><line x1="370.6" y1="565.8" x2="386.2" y2="567.4" stroke="#10ec5a"/><line x1="390.4" y1="569.0" x2="392.5" y2="564.8" stroke="#10ec5a"/><line x1="390.4" y1="569.0" x2="392.5" y2="573.6" stroke="#10ec5a"/><line x1="399.3" y1="577.8" x2="404.0" y2="577.3" stroke="#10ec5a"/><line x1="404.0" y1="577.3" x2="407.6" y2="573.6" stroke="#10ec5a"/><line x1="407.6" y1="573.6" x2="417.5" y2="578.3" stroke="#10ec5a"/><line x1="407.6" y1="573.6" x2="405.3" y2="581.2" stroke="#10ec5a"/><line x1="401.4" y1="592.4" x2="399.8" y2="596.0" stroke="#10ec5a"/><line x1="399.8" y1="596.0" x2="383.6" y2="594.0" stroke="#10ec5a"/><line x1="383.6" y1="594.0" x2="378.4" y2="607.5" stroke="#10ec5a"/><line x1="378.4" y1="607.5" x2="390.4" y2="617.9" stroke="#10ec5a"/><line x1="390.4" y1="617.9" x2="407.1" y2="621.6" stroke="#10ec5a"/><line x1="407.1" y1="621.6" x2="412.3" y2="606.5" stroke="#10ec5a"/><line x1="412.3" y1="606.5" x2="399.8" y2="596.0" stroke="#10ec5a"/><line x1="378.4" y1="607.5" x2="362.3" y2="603.3" stroke="#10ec5a"/><line x1="362.3" y1="603.3" x2="362.1" y2="598.6" stroke="#10ec5a"/><line x1="362.3" y1="603.3" x2="356.2" y2="605.4" stroke="#10ec5a"/><line x1="722.4" y1="502.8" x2="721.9" y2="511.7" stroke="#10ec5a"/><line x1="693.2" y1="526.8" x2="700.5" y2="518.8" stroke="#10ec5a"/><line x1="700.5" y1="518.8" x2="717.2" y2="522.9" stroke="#10ec5a"/><line x1="717.2" y1="522.9" x2="719.2" y2="521.2" stroke="#10ec5a"/><line x1="725.5" y1="519.0" x2="729.7" y2="518.4" stroke="#10ec5a"/><line x1="693.2" y1="526.8" x2="720.3" y2="530.4" stroke="#10ec5a"/><line x1="720.3" y1="530.4" x2="729.7" y2="525.7" stroke="#10ec5a"/><line x1="729.7" y1="525.7" x2="729.7" y2="518.4" stroke="#10ec5a"/><line x1="733.0" y1="514.8" x2="732.3" y2="519.5" stroke="#10ec5a"/><line x1="732.3" y1="519.5" x2="736.7" y2="520.8" stroke="#10ec5a"/><line x1="745.3" y1="518.2" x2="749.5" y2="514.3" stroke="#10ec5a"/><line x1="749.5" y1="514.3" x2="748.9" y2="508.5" stroke="#10ec5a"/><line x1="749.5" y1="514.3" x2="762.0" y2="519.5" stroke="#10ec5a"/><line x1="762.0" y1="519.5" x2="765.1" y2="513.8" stroke="#10ec5a"/><line x1="765.1" y1="513.8" x2="768.0" y2="514.8" stroke="#10ec5a"/><line x1="722.4" y1="530.4" x2="723.4" y2="532.5" stroke="#10ec5a"/><line x1="732.3" y1="519.5" x2="732.8" y2="529.4" stroke="#10ec5a"/><line x1="732.8" y1="529.4" x2="734.4" y2="533.5" stroke="#10ec5a"/><line x1="742.2" y1="536.4" x2="748.4" y2="535.1" stroke="#10ec5a"/><line x1="748.4" y1="535.1" x2="743.2" y2="547.1" stroke="#10ec5a"/><line x1="748.4" y1="535.1" x2="765.1" y2="538.8" stroke="#10ec5a"/><line x1="765.1" y1="538.8" x2="766.1" y2="545.0" stroke="#10ec5a"/><line x1="732.8" y1="559.3" x2="735.9" y2="559.1" stroke="#10ec5a"/><line x1="735.9" y1="559.1" x2="748.4" y2="555.4" stroke="#10ec5a"/><line x1="748.4" y1="555.4" x2="748.9" y2="550.2" stroke="#10ec5a"/><line x1="748.4" y1="555.4" x2="752.1" y2="559.1" stroke="#10ec5a"/><line x1="761.9" y1="561.1" x2="768.0" y2="559.6" stroke="#10ec5a"/><line x1="755.2" y1="567.4" x2="754.7" y2="572.1" stroke="#10ec5a"/><line x1="696.3" y1="573.6" x2="720.3" y2="567.9" stroke="#10ec5a"/><line x1="720.3" y1="567.9" x2="726.5" y2="570.0" stroke="#10ec5a"/><line x1="758.0" y1="519.0" x2="764.2" y2="513.2" stroke="#10ec5a"/><line x1="764.2" y1="513.2" x2="773.6" y2="515.3" stroke="#10ec5a"/><line x1="773.6" y1="515.3" x2="785.6" y2="512.7" stroke="#10ec5a"/><line x1="785.6" y1="512.7" x2="785.6" y2="518.4" stroke="#10ec5a"/><line x1="785.6" y1="518.4" x2="774.7" y2="520.0" stroke="#10ec5a"/><line x1="774.7" y1="520.0" x2="762.2" y2="519.5" stroke="#10ec5a"/><line x1="762.2" y1="519.5" x2="758.0" y2="519.0" stroke="#10ec5a"/><line x1="773.6" y1="509.6" x2="774.7" y2="520.0" stroke="#10ec5a"/><line x1="774.7" y1="520.0" x2="775.7" y2="524.2" stroke="#10ec5a"/><line x1="773.1" y1="531.5" x2="769.5" y2="534.6" stroke="#10ec5a"/><line x1="769.5" y1="534.6" x2="765.3" y2="538.8" stroke="#10ec5a"/><line x1="765.3" y1="538.8" x2="758.0" y2="537.7" stroke="#10ec5a"/><line x1="765.3" y1="538.8" x2="766.9" y2="544.0" stroke="#10ec5a"/><line x1="781.4" y1="529.6" x2="786.1" y2="530.9" stroke="#10ec5a"/><line x1="786.1" y1="530.9" x2="799.7" y2="529.4" stroke="#10ec5a"/><line x1="799.7" y1="529.4" x2="809.0" y2="528.3" stroke="#10ec5a"/><line x1="796.5" y1="503.3" x2="794.5" y2="511.7" stroke="#10ec5a"/><line x1="790.3" y1="517.1" x2="786.1" y2="517.4" stroke="#10ec5a"/><line x1="797.1" y1="520.0" x2="799.7" y2="523.1" stroke="#10ec5a"/><line x1="793.4" y1="525.2" x2="809.0" y2="522.6" stroke="#10ec5a"/><line x1="809.0" y1="522.6" x2="824.7" y2="526.2" stroke="#10ec5a"/><line x1="824.7" y1="526.2" x2="824.7" y2="535.1" stroke="#10ec5a"/><line x1="824.7" y1="535.1" x2="809.0" y2="529.4" stroke="#10ec5a"/><line x1="809.0" y1="529.4" x2="793.4" y2="532.5" stroke="#10ec5a"/><line x1="793.4" y1="532.5" x2="793.4" y2="525.2" stroke="#10ec5a"/><line x1="809.0" y1="522.6" x2="809.0" y2="515.8" stroke="#10ec5a"/><line x1="762.7" y1="560.1" x2="767.4" y2="558.5" stroke="#10ec5a"/><line x1="767.4" y1="558.5" x2="784.0" y2="555.4" stroke="#10ec5a"/><line x1="784.0" y1="555.4" x2="792.4" y2="561.7" stroke="#10ec5a"/><line x1="792.4" y1="561.7" x2="796.5" y2="567.9" stroke="#10ec5a"/><line x1="767.4" y1="559.6" x2="775.7" y2="565.8" stroke="#10ec5a"/><line x1="775.7" y1="565.8" x2="792.4" y2="562.7" stroke="#10ec5a"/><line x1="796.5" y1="567.9" x2="800.2" y2="566.4" stroke="#10ec5a"/><line x1="807.5" y1="565.8" x2="811.1" y2="566.9" stroke="#10ec5a"/><line x1="811.1" y1="566.9" x2="811.1" y2="562.7" stroke="#10ec5a"/><line x1="811.1" y1="566.9" x2="828.8" y2="564.3" stroke="#10ec5a"/><line x1="811.1" y1="566.9" x2="808.0" y2="575.0" stroke="#10ec5a"/><line x1="796.5" y1="567.9" x2="796.0" y2="575.0" stroke="#10ec5a"/><line x1="696.3" y1="573.8" x2="720.3" y2="568.3" stroke="#10ec5a"/><line x1="720.3" y1="568.3" x2="726.5" y2="575.1" stroke="#10ec5a"/><line x1="696.3" y1="574.1" x2="703.6" y2="584.5" stroke="#10ec5a"/><line x1="703.6" y1="584.5" x2="719.2" y2="578.8" stroke="#10ec5a"/><line x1="719.2" y1="578.8" x2="727.6" y2="576.1" stroke="#10ec5a"/><line x1="729.1" y1="574.1" x2="729.7" y2="584.0" stroke="#10ec5a"/><line x1="719.2" y1="578.8" x2="721.6" y2="581.4" stroke="#10ec5a"/><line x1="729.7" y1="584.0" x2="737.0" y2="590.2" stroke="#10ec5a"/><line x1="737.0" y1="590.2" x2="728.6" y2="591.2" stroke="#10ec5a"/><line x1="727.6" y1="591.2" x2="739.0" y2="591.2" stroke="#10ec5a"/><line x1="727.3" y1="597.2" x2="728.1" y2="603.2" stroke="#10ec5a"/><line x1="739.0" y1="591.2" x2="745.8" y2="589.4" stroke="#10ec5a"/><line x1="753.6" y1="574.6" x2="754.1" y2="568.9" stroke="#10ec5a"/><line x1="758.8" y1="591.0" x2="765.1" y2="594.4" stroke="#10ec5a"/><line x1="765.1" y1="594.4" x2="764.0" y2="600.1" stroke="#10ec5a"/><line x1="765.1" y1="594.4" x2="768.0" y2="593.3" stroke="#10ec5a"/><line x1="761.1" y1="590.2" x2="764.2" y2="592.3" stroke="#10ec5a"/><line x1="764.2" y1="592.3" x2="764.2" y2="597.5" stroke="#10ec5a"/><line x1="764.2" y1="592.3" x2="782.0" y2="587.1" stroke="#10ec5a"/><line x1="782.0" y1="587.1" x2="803.8" y2="581.9" stroke="#10ec5a"/><line x1="766.3" y1="594.4" x2="783.0" y2="588.6" stroke="#10ec5a"/><line x1="782.0" y1="587.1" x2="793.4" y2="599.6" stroke="#10ec5a"/><line x1="793.4" y1="599.6" x2="814.2" y2="594.4" stroke="#10ec5a"/><line x1="814.2" y1="594.4" x2="803.8" y2="581.9" stroke="#10ec5a"/><line x1="803.8" y1="581.9" x2="805.9" y2="579.8" stroke="#10ec5a"/><line x1="809.6" y1="572.0" x2="811.1" y2="566.2" stroke="#10ec5a"/><line x1="811.1" y1="568.3" x2="828.8" y2="564.7" stroke="#10ec5a"/><line x1="800.7" y1="566.2" x2="797.6" y2="568.3" stroke="#10ec5a"/><line x1="797.6" y1="568.3" x2="796.5" y2="572.5" stroke="#10ec5a"/><line x1="796.5" y1="569.4" x2="775.7" y2="565.2" stroke="#10ec5a"/><line x1="775.7" y1="565.2" x2="768.4" y2="560.0" stroke="#10ec5a"/><line x1="172.3" y1="577.6" x2="173.1" y2="585.0" stroke="#0a62ff"/><line x1="172.7" y1="585.8" x2="166.1" y2="585.5" stroke="#0a62ff"/><line x1="172.0" y1="590.3" x2="162.8" y2="589.9" stroke="#0a62ff"/><line x1="173.5" y1="587.0" x2="177.6" y2="590.3" stroke="#0a62ff"/><line x1="186.4" y1="600.6" x2="188.0" y2="607.7" stroke="#ff2020"/><line x1="189.1" y1="582.7" x2="189.3" y2="585.4" stroke="#0a62ff"/><line x1="189.3" y1="585.4" x2="189.5" y2="588.1" stroke="#ffffff"/><line x1="188.8" y1="581.9" x2="184.5" y2="579.9" stroke="#0a62ff"/><line x1="178.6" y1="572.9" x2="177.0" y2="567.4" stroke="#ff2020"/><line x1="188.8" y1="581.9" x2="191.1" y2="579.1" stroke="#0a62ff"/><line x1="206.7" y1="586.2" x2="206.7" y2="592.0" stroke="#ff2020"/><line x1="210.4" y1="578.9" x2="214.1" y2="576.8" stroke="#0a62ff"/><line x1="214.1" y1="576.8" x2="213.8" y2="570.2" stroke="#0a62ff"/><line x1="203.6" y1="595.9" x2="207.5" y2="597.5" stroke="#0a62ff"/><line x1="207.5" y1="597.5" x2="207.5" y2="602.2" stroke="#0a62ff"/><line x1="207.5" y1="602.2" x2="207.5" y2="606.9" stroke="#ffffff"/><line x1="207.5" y1="597.5" x2="210.6" y2="595.9" stroke="#0a62ff"/><line x1="220.8" y1="576.8" x2="220.8" y2="585.0" stroke="#ff2020"/><line x1="214.4" y1="576.2" x2="219.4" y2="578.3" stroke="#0a62ff"/><line x1="255.8" y1="582.3" x2="257.6" y2="585.8" stroke="#0a62ff"/><line x1="257.6" y1="585.8" x2="256.4" y2="590.1" stroke="#0a62ff"/><line x1="255.6" y1="573.7" x2="257.2" y2="568.2" stroke="#ff2020"/><line x1="257.2" y1="602.6" x2="259.9" y2="598.3" stroke="#ff2020"/><line x1="263.0" y1="590.3" x2="265.0" y2="585.8" stroke="#0a62ff"/><line x1="265.0" y1="585.8" x2="267.3" y2="578.4" stroke="#0a62ff"/><line x1="265.0" y1="585.8" x2="273.2" y2="585.6" stroke="#0a62ff"/><line x1="321.6" y1="563.8" x2="323.6" y2="568.4" stroke="#ff2020"/><line x1="329.4" y1="573.9" x2="333.5" y2="575.2" stroke="#0a62ff"/><line x1="333.5" y1="575.2" x2="334.6" y2="578.3" stroke="#0a62ff"/><line x1="334.6" y1="578.3" x2="335.6" y2="581.5" stroke="#ffffff"/><line x1="333.5" y1="575.2" x2="335.6" y2="571.8" stroke="#0a62ff"/><line x1="349.2" y1="575.7" x2="349.7" y2="580.4" stroke="#ff2020"/><line x1="352.6" y1="568.2" x2="356.5" y2="565.3" stroke="#0a62ff"/><line x1="356.5" y1="565.3" x2="355.7" y2="559.8" stroke="#0a62ff"/><line x1="356.5" y1="565.3" x2="360.7" y2="566.9" stroke="#0a62ff"/><line x1="318.4" y1="590.8" x2="317.1" y2="585.9" stroke="#0a62ff"/><line x1="316.9" y1="591.6" x2="318.4" y2="590.8" stroke="#0a62ff"/><line x1="318.4" y1="590.8" x2="323.9" y2="596.3" stroke="#0a62ff"/><line x1="331.5" y1="605.7" x2="333.5" y2="609.6" stroke="#ff2020"/><line x1="339.8" y1="604.6" x2="350.2" y2="607.5" stroke="#0a62ff"/><line x1="350.2" y1="607.5" x2="350.7" y2="610.9" stroke="#0a62ff"/><line x1="350.7" y1="610.9" x2="351.2" y2="614.3" stroke="#ffffff"/><line x1="350.2" y1="607.5" x2="355.9" y2="605.4" stroke="#0a62ff"/><line x1="361.7" y1="598.6" x2="361.7" y2="594.0" stroke="#ff2020"/><line x1="356.5" y1="565.3" x2="360.4" y2="566.4" stroke="#0a62ff"/><line x1="392.5" y1="564.8" x2="395.1" y2="560.1" stroke="#ff2020"/><line x1="392.5" y1="573.6" x2="394.6" y2="578.3" stroke="#0a62ff"/><line x1="394.6" y1="578.3" x2="393.3" y2="582.0" stroke="#0a62ff"/><line x1="393.3" y1="582.0" x2="392.0" y2="585.6" stroke="#ffffff"/><line x1="394.6" y1="578.3" x2="399.3" y2="577.8" stroke="#0a62ff"/><line x1="405.3" y1="581.2" x2="402.9" y2="588.8" stroke="#0a62ff"/><line x1="402.9" y1="588.8" x2="401.4" y2="592.4" stroke="#0a62ff"/><line x1="397.7" y1="595.0" x2="396.5" y2="593.8" stroke="#ff2020"/><line x1="362.1" y1="598.6" x2="361.8" y2="594.0" stroke="#ff2020"/><line x1="356.2" y1="605.4" x2="350.2" y2="607.5" stroke="#0a62ff"/><line x1="721.9" y1="511.7" x2="721.3" y2="519.5" stroke="#0a62ff"/><line x1="719.2" y1="521.2" x2="721.3" y2="519.5" stroke="#0a62ff"/><line x1="721.3" y1="519.5" x2="725.5" y2="519.0" stroke="#0a62ff"/><line x1="733.8" y1="510.6" x2="733.0" y2="514.8" stroke="#ff2020"/><line x1="736.7" y1="520.8" x2="741.1" y2="522.1" stroke="#0a62ff"/><line x1="741.1" y1="522.1" x2="741.6" y2="526.2" stroke="#0a62ff"/><line x1="741.6" y1="526.2" x2="742.2" y2="530.4" stroke="#ffffff"/><line x1="741.1" y1="522.1" x2="745.3" y2="518.2" stroke="#0a62ff"/><line x1="748.9" y1="508.5" x2="748.4" y2="503.3" stroke="#ff2020"/><line x1="723.4" y1="532.5" x2="723.4" y2="537.7" stroke="#ff2020"/><line x1="734.4" y1="533.5" x2="735.9" y2="537.7" stroke="#0a62ff"/><line x1="735.9" y1="537.7" x2="735.4" y2="543.4" stroke="#0a62ff"/><line x1="735.4" y1="543.4" x2="734.9" y2="549.2" stroke="#ffffff"/><line x1="735.9" y1="537.7" x2="742.2" y2="536.4" stroke="#0a62ff"/><line x1="766.1" y1="545.0" x2="767.2" y2="553.3" stroke="#ff2020"/><line x1="728.1" y1="551.8" x2="728.9" y2="555.7" stroke="#ffffff"/><line x1="728.9" y1="555.7" x2="729.7" y2="559.6" stroke="#0a62ff"/><line x1="729.7" y1="559.6" x2="732.8" y2="559.3" stroke="#0a62ff"/><line x1="748.9" y1="550.2" x2="749.5" y2="545.0" stroke="#ff2020"/><line x1="752.1" y1="559.1" x2="755.7" y2="562.7" stroke="#0a62ff"/><line x1="755.7" y1="562.7" x2="761.9" y2="561.1" stroke="#0a62ff"/><line x1="755.7" y1="562.7" x2="755.2" y2="567.4" stroke="#0a62ff"/><line x1="775.7" y1="524.2" x2="776.8" y2="528.3" stroke="#0a62ff"/><line x1="776.8" y1="528.3" x2="773.1" y2="531.5" stroke="#0a62ff"/><line x1="766.9" y1="544.0" x2="768.4" y2="555.4" stroke="#ff2020"/><line x1="776.8" y1="528.3" x2="781.4" y2="529.6" stroke="#0a62ff"/><line x1="794.5" y1="511.7" x2="794.5" y2="516.9" stroke="#0a62ff"/><line x1="794.5" y1="516.9" x2="790.3" y2="517.1" stroke="#0a62ff"/><line x1="794.5" y1="516.9" x2="797.1" y2="520.0" stroke="#0a62ff"/><line x1="809.0" y1="515.8" x2="808.5" y2="508.5" stroke="#ff2020"/><line x1="799.7" y1="534.1" x2="799.1" y2="537.2" stroke="#ff2020"/><line x1="812.2" y1="534.1" x2="812.2" y2="537.4" stroke="#0a62ff"/><line x1="812.2" y1="537.4" x2="812.2" y2="540.8" stroke="#ffffff"/><line x1="758.0" y1="561.7" x2="762.7" y2="560.1" stroke="#0a62ff"/><line x1="800.2" y1="566.4" x2="803.8" y2="564.8" stroke="#0a62ff"/><line x1="803.8" y1="564.8" x2="803.8" y2="559.1" stroke="#0a62ff"/><line x1="803.8" y1="559.1" x2="803.8" y2="553.3" stroke="#ffffff"/><line x1="803.8" y1="564.8" x2="807.5" y2="565.8" stroke="#0a62ff"/><line x1="811.1" y1="562.7" x2="811.1" y2="558.5" stroke="#ff2020"/><line x1="728.1" y1="566.2" x2="729.1" y2="574.1" stroke="#ff2020"/><line x1="721.6" y1="581.4" x2="723.9" y2="584.0" stroke="#0a62ff"/><line x1="723.9" y1="584.0" x2="726.5" y2="591.2" stroke="#0a62ff"/><line x1="726.5" y1="591.2" x2="727.3" y2="597.2" stroke="#0a62ff"/><line x1="745.8" y1="589.4" x2="752.6" y2="587.6" stroke="#0a62ff"/><line x1="752.6" y1="587.6" x2="754.7" y2="582.4" stroke="#0a62ff"/><line x1="754.7" y1="582.4" x2="756.8" y2="577.2" stroke="#ffffff"/><line x1="754.1" y1="568.9" x2="754.7" y2="563.1" stroke="#0a62ff"/><line x1="752.6" y1="587.6" x2="758.8" y2="591.0" stroke="#0a62ff"/><line x1="764.0" y1="600.1" x2="763.0" y2="605.8" stroke="#ff2020"/><line x1="758.0" y1="588.1" x2="761.1" y2="590.2" stroke="#0a62ff"/><line x1="764.2" y1="597.5" x2="762.7" y2="605.8" stroke="#ff2020"/><line x1="805.9" y1="579.8" x2="808.0" y2="577.7" stroke="#0a62ff"/><line x1="808.0" y1="577.7" x2="809.6" y2="572.0" stroke="#0a62ff"/><line x1="811.1" y1="566.2" x2="811.1" y2="560.0" stroke="#ff2020"/><line x1="803.8" y1="564.2" x2="800.7" y2="566.2" stroke="#0a62ff"/><line x1="796.5" y1="572.5" x2="795.5" y2="580.8" stroke="#ff2020"/></g>
</svg>
</body></html>
